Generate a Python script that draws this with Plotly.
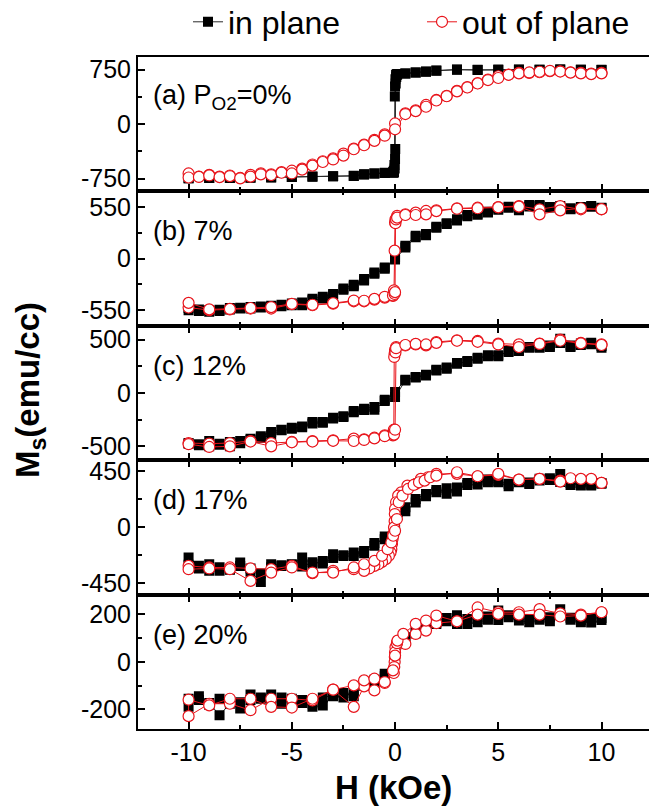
import plotly.graph_objects as go
from plotly.subplots import make_subplots

# ---------------- data ----------------
H_GRID = [10, 9.5, 9, 8.5, 8, 7.5, 7, 6.5, 6, 5.5, 5, 4.5, 4, 3.5, 3, 2.5, 2, 1.5, 1, 0.5, 0,
          -0.5, -1, -1.5, -2, -2.5, -3, -3.5, -4, -4.5, -5, -5.5, -6, -6.5, -7, -7.5, -8, -8.5, -9, -9.5, -10]
H_GRID_UP = H_GRID[::-1]

panel_labels = ["(a) P<sub>O2</sub>=0%", "(b) 7%", "(c) 12%", "(d) 17%", "(e) 20%"]
y_tick_max = [750, 550, 500, 450, 200]
y_ranges = [[-925, 925], [-721, 721], [-630, 630], [-540, 540], [-282, 282]]
x_tickvals = [-10, -5, 0, 5, 10]
x_ticktext = ["-10", "-5", "0", "5", "10"]

# (a) 0 %
H_a_in_down = [10, 9, 8, 7, 6, 5, 4, 3, 2, 1.5, 1, 0.5, 0.1, 0.05, 0.02, 0, -0.01, -0.03, -0.06, -0.1,
               -0.5, -1, -1.5, -2, -3, -4, -5, -6, -7, -8, -9, -10]
M_a_in_down = [748, 750, 752, 748, 752, 745, 750, 752, 740, 724, 710, 698, 690, 680, 620, 520, 380, -560, -640, -662,
               -668, -678, -690, -712, -715, -722, -728, -732, -738, -740, -742, -745]
H_a_in_up = [-10, -9, -8, -7, -6, -5, -4, -3, -2, -1.5, -1, -0.5, -0.1, -0.05, -0.02, 0, 0.01, 0.03, 0.06, 0.1,
             0.5, 1, 1.5, 2, 3, 4, 5, 6, 7, 8, 9, 10]
M_a_in_up = [-745, -740, -738, -735, -730, -726, -720, -716, -710, -694, -680, -672, -670, -665, -610, -480, -340, 560, 650, 680,
             698, 712, 722, 735, 750, 745, 752, 750, 748, 752, 748, 745]
H_a_out_down = H_GRID
M_a_out_down = [706, 697, 706, 715, 729, 729, 715, 706, 706, 683, 660, 613, 566, 510, 460, 390, 334, 265, 190, 150, 10,
                -140, -215, -280, -335, -405, -470, -510, -555, -612, -640, -660, -690, -676, -697, -740, -706, -722, -697, -720, -678]
H_a_out_up = H_GRID_UP
M_a_out_up = [-734, -726, -705, -728, -714, -745, -722, -690, -700, -668, -678, -625, -570, -520, -485, -432, -345, -290, -230, -158, -70,
              140, 180, 240, 326, 385, 452, 505, 560, 608, 636, 680, 700, 712, 722, 735, 725, 710, 700, 690, 700]

# (b) 7 %
H_b_in_down = H_GRID
M_b_in_down = [539, 564, 553, 529, 564, 553, 575, 575, 518, 557, 539, 504, 483, 468, 422, 380, 341, 263, 245, 138, 14,
               -110, -163, -234, -298, -334, -394, -429, -447, -500, -500, -511, -518, -525, -536, -536, -546, -561, -571, -561, -553]
H_b_in_up = H_GRID_UP
M_b_in_up = [-530, -545, -555, -550, -530, -528, -520, -515, -505, -495, -482, -470, -430, -410, -380, -320, -280, -220, -150, -95, -10,
             120, 230, 250, 330, 372, 410, 455, 470, 495, 525, 545, 530, 560, 565, 548, 555, 540, 545, 555, 545]
H_b_out_down = [10, 9, 8, 7, 6, 5, 4, 3, 2, 1.5, 1, 0.5, 0.1, 0.02, 0, -0.02, -0.05, -0.1, -0.5, -1,
                -1.5, -2, -3, -4, -5, -6, -7, -8, -9, -10]
M_b_out_down = [529, 529, 564, 529, 564, 553, 546, 539, 518, 511, 493, 475, 458, 422, 387, 85, -340, -400, -419, -440,
                -458, -458, -483, -500, -490, -536, -536, -546, -553, -525]
H_b_out_up = [-10, -9, -8, -7, -6, -5, -4, -3, -2, -1.5, -1, -0.5, -0.1, -0.02, 0, 0.02, 0.05, 0.1, 0.5, 1,
              1.5, 2, 3, 4, 5, 6, 7, 8, 9, 10]
M_b_out_up = [-475, -545, -540, -530, -520, -485, -495, -478, -450, -452, -432, -410, -395, -380, -360, 380, 420, 440, 468, 468,
              475, 510, 535, 540, 550, 558, 475, 518, 540, 530]

# (c) 12 %
H_c_in_down = H_GRID
M_c_in_down = [425, 456, 463, 431, 509, 431, 425, 431, 394, 394, 344, 353, 322, 291, 281, 228, 219, 172, 150, 125, 9,
               -63, -131, -147, -169, -219, -231, -272, -272, -313, -325, -344, -366, -406, -428, -450, -459, -475, -450, -481, -469]
H_c_in_up = H_GRID_UP
M_c_in_up = [-475, -490, -500, -485, -500, -470, -440, -420, -397, -350, -335, -320, -285, -280, -240, -225, -180, -160, -156, -75, -38,
             118, 145, 165, 210, 240, 275, 300, 330, 345, 355, 385, 400, 425, 435, 445, 469, 445, 450, 470, 440]
H_c_out_down = [10, 9, 8, 7, 6, 5, 4, 3, 2, 1.5, 1, 0.5, 0.05, 0, -0.02, -0.04, -0.06, -0.1, -0.5, -1,
                -1.5, -2, -3, -4, -5, -6, -7, -8, -9, -10]
M_c_out_down = [456, 469, 500, 463, 456, 463, 488, 494, 478, 447, 456, 447, 431, 406, 369, 338, -344, -397, -397, -419,
                -434, -428, -444, -450, -459, -469, -450, -469, -475, -469]
H_c_out_up = [-10, -9, -8, -7, -6, -5, -4, -3, -2, -1.5, -1, -0.5, -0.05, 0, 0.02, 0.05, 0.5, 1, 1.5, 2,
              3, 4, 5, 6, 7, 8, 9, 10]
M_c_out_up = [-480, -506, -500, -455, -500, -462, -455, -448, -450, -440, -425, -405, -390, -344, 380, 420, 450, 460, 455, 470,
              490, 480, 455, 431, 460, 490, 465, 450]

# (d) 17 %
H_d_in_down = H_GRID
M_d_in_down = [357, 336, 336, 357, 430, 395, 376, 349, 363, 330, 363, 363, 376, 357, 288, 314, 282, 269, 228, 161, 13,
               -73, -148, -207, -202, -223, -215, -269, -296, -242, -296, -304, -296, -438, -357, -282, -336, -349, -349, -309, -242]
H_d_in_up = H_GRID_UP
M_d_in_up = [-300, -330, -296, -320, -340, -310, -330, -370, -320, -310, -300, -315, -280, -290, -245, -230, -230, -190, -125, -95, -20,
             130, 200, 250, 300, 270, 320, 340, 345, 385, 370, 350, 375, 360, 390, 380, 365, 340, 360, 345, 350]
H_d_out_down = [10, 9.5, 8.5, 8, 7, 6, 5, 4, 3, 2, 1.6, 1.25, 1, 0.6, 0.3, 0.15, 0.05, 0, -0.01, -0.02,
                -0.05, -0.09, -0.12, -0.15, -0.18, -0.22, -0.3, -0.45, -0.63, -0.81,
                -1, -1.25, -1.5, -2, -3, -4, -5, -6, -7, -8, -9, -10]
M_d_out_down = [357, 390, 395, 376, 390, 384, 422, 411, 430, 430, 403, 390, 349, 336, 282, 255, 202, 148, 107, 50,
                0, -54, -94, -134, -175, -202, -228, -255, -277, -296,
                -309, -330, -349, -336, -349, -368, -309, -336, -330, -322, -322, -309]
H_d_out_up = [-10, -9, -8, -7, -6, -5, -4, -3, -2, -1.5, -1, -0.63, -0.36, -0.18, -0.09, 0,
              0.09, 0.18, 0.36, 0.63, 0.9, 1.16, 1.43, 1.7, 2, 3, 4, 5, 6, 7, 8, 9, 10]
M_d_out_up = [-336, -330, -336, -430, -363, -322, -363, -363, -322, -296, -269, -228, -175, -121, -67, -27,
              67, 202, 255, 309, 341, 363, 376, 403, 416, 443, 411, 430, 384, 390, 368, 390, 357]

# (e) 20 %
H_e_in_down = H_GRID
M_e_in_down = [184, 184, 166, 176, 221, 187, 176, 166, 173, 187, 215, 176, 166, 159, 159, 184, 159, 148, 120, 103, -8,
               -61, -75, -95, -145, -131, -145, -183, -189, -173, -155, -176, -137, -155, -137, -196, -176, -224, -173, -145, -189]
H_e_in_up = H_GRID_UP
M_e_in_up = [-155, -160, -180, -155, -165, -170, -160, -150, -165, -150, -170, -160, -175, -150, -140, -150, -120, -100, -90, -50, 20,
             90, 128, 138, 165, 170, 195, 180, 180, 190, 175, 195, 200, 180, 185, 170, 195, 185, 175, 165, 175]
H_e_out_down = [10, 9, 8, 7, 6, 5, 4, 3, 2, 1.5, 1, 0.5, 0.1, 0.02, 0, -0.01, -0.02, -0.04, -0.06, -0.5,
                -1, -1.5, -2, -3, -4, -5, -6, -7, -8, -9, -10]
M_e_out_down = [208, 198, 203, 221, 208, 208, 228, 170, 162, 131, 117, 75, 82, 61, 40, 20, -1, -22, -47, -89,
                -120, -103, -189, -117, -162, -155, -155, -203, -176, -176, -228]
H_e_out_up = [-10, -9, -8, -7, -6, -5, -4, -3, -2, -1.5, -1, -0.5, -0.1, 0, 0.09, 0.12, 0.4, 1, 1.5, 2,
              3, 4, 5, 6, 7, 8, 9, 10]
M_e_out_up = [-159, -183, -155, -155, -189, -192, -155, -117, -99, -78, -71, -85, -36, 26, 78, 89, 117, 159, 173, 194,
              170, 198, 201, 198, 198, 190, 194, 208]

panels = [
    (H_a_in_down + H_a_in_up, M_a_in_down + M_a_in_up, H_a_out_down + H_a_out_up, M_a_out_down + M_a_out_up),
    (H_b_in_down + H_b_in_up, M_b_in_down + M_b_in_up, H_b_out_down + H_b_out_up, M_b_out_down + M_b_out_up),
    (H_c_in_down + H_c_in_up, M_c_in_down + M_c_in_up, H_c_out_down + H_c_out_up, M_c_out_down + M_c_out_up),
    (H_d_in_down + H_d_in_up, M_d_in_down + M_d_in_up, H_d_out_down + H_d_out_up, M_d_out_down + M_d_out_up),
    (H_e_in_down + H_e_in_up, M_e_in_down + M_e_in_up, H_e_out_down + H_e_out_up, M_e_out_down + M_e_out_up),
]

# ---------------- figure ----------------
FONT = "Liberation Sans, Arial, sans-serif"
W, H = 649, 807
ML, MR, MT, MB = 138, 0, 57, 78
PW, PH = W - ML - MR, H - MT - MB

fig = make_subplots(rows=5, cols=1, shared_xaxes=True, vertical_spacing=0)

for i, (hx, my, ho, mo) in enumerate(panels):
    fig.add_trace(go.Scatter(
        x=hx, y=my, mode="lines+markers", name="in plane", legendgroup="in",
        showlegend=(i == 0), legendwidth=189,
        line=dict(color="#2a2a2a", width=1),
        marker=dict(symbol="square", size=10, color="black", line=dict(width=0)),
    ), row=i + 1, col=1)
    fig.add_trace(go.Scatter(
        x=ho, y=mo, mode="lines+markers", name="out of plane", legendgroup="out",
        showlegend=(i == 0), legendwidth=168,
        line=dict(color="#e8141b", width=1),
        marker=dict(symbol="circle", size=11, color="white", line=dict(color="#e8141b", width=1.2)),
    ), row=i + 1, col=1)

    v = y_tick_max[i]
    fig.update_yaxes(
        range=y_ranges[i], tickvals=[-v, 0, v], ticktext=[str(-v), "0", str(v)],
        minor=dict(tickvals=[-v / 2, v / 2], ticks="inside", ticklen=4, tickwidth=1.5, tickcolor="black"),
        row=i + 1, col=1)
    fig.update_xaxes(mirror=(True if i == 0 else "ticks"), row=i + 1, col=1)

    fig.add_annotation(
        text=panel_labels[i], xref="paper", yref="paper",
        x=(151 - ML) / PW, y=1 - 0.2 * i - 40 / PH,
        xanchor="left", yanchor="middle", showarrow=False,
        font=dict(family=FONT, size=27, color="black"))

fig.update_xaxes(
    range=[-12.45, 12.30], showline=True, linecolor="black", linewidth=2,
    ticks="inside", ticklen=7, tickwidth=1.5, tickcolor="black",
    tickvals=x_tickvals, ticktext=x_ticktext,
    minor=dict(ticks="inside", ticklen=4, tickwidth=1.5, tickcolor="black", dtick=2.5, tick0=0),
    showgrid=False, zeroline=False,
    tickfont=dict(family=FONT, size=25, color="black"))
fig.update_yaxes(
    showline=True, linecolor="black", linewidth=2, mirror=False,
    ticks="inside", ticklen=7, tickwidth=1.5, tickcolor="black",
    showgrid=False, zeroline=False,
    tickfont=dict(family=FONT, size=25, color="black"))

fig.add_annotation(
    text="<b>M<sub>s</sub>(emu/cc)</b>", xref="paper", yref="paper",
    x=(30 - ML) / PW, y=(MT + PH - 390) / PH, textangle=-90,
    xanchor="center", yanchor="middle", showarrow=False,
    font=dict(family=FONT, size=33, color="black"))
fig.add_annotation(
    text="<b>H (kOe)</b>", xref="paper", yref="paper",
    x=(393 - ML) / PW, y=(MT + PH - 787) / PH,
    xanchor="center", yanchor="middle", showarrow=False,
    font=dict(family=FONT, size=33, color="black"))

fig.update_layout(
    width=W, height=H,
    margin=dict(l=ML, r=MR, t=MT, b=MB, autoexpand=False),
    paper_bgcolor="white", plot_bgcolor="white",
    font=dict(family=FONT, color="black"),
    legend=dict(orientation="h", x=(188 - ML) / PW, xanchor="left",
                y=(MT + PH - 22) / PH, yanchor="middle",
                font=dict(family=FONT, size=32, color="black"),
                bgcolor="rgba(0,0,0,0)", itemwidth=30),
    showlegend=True,
)

fig.write_html("out.html")
